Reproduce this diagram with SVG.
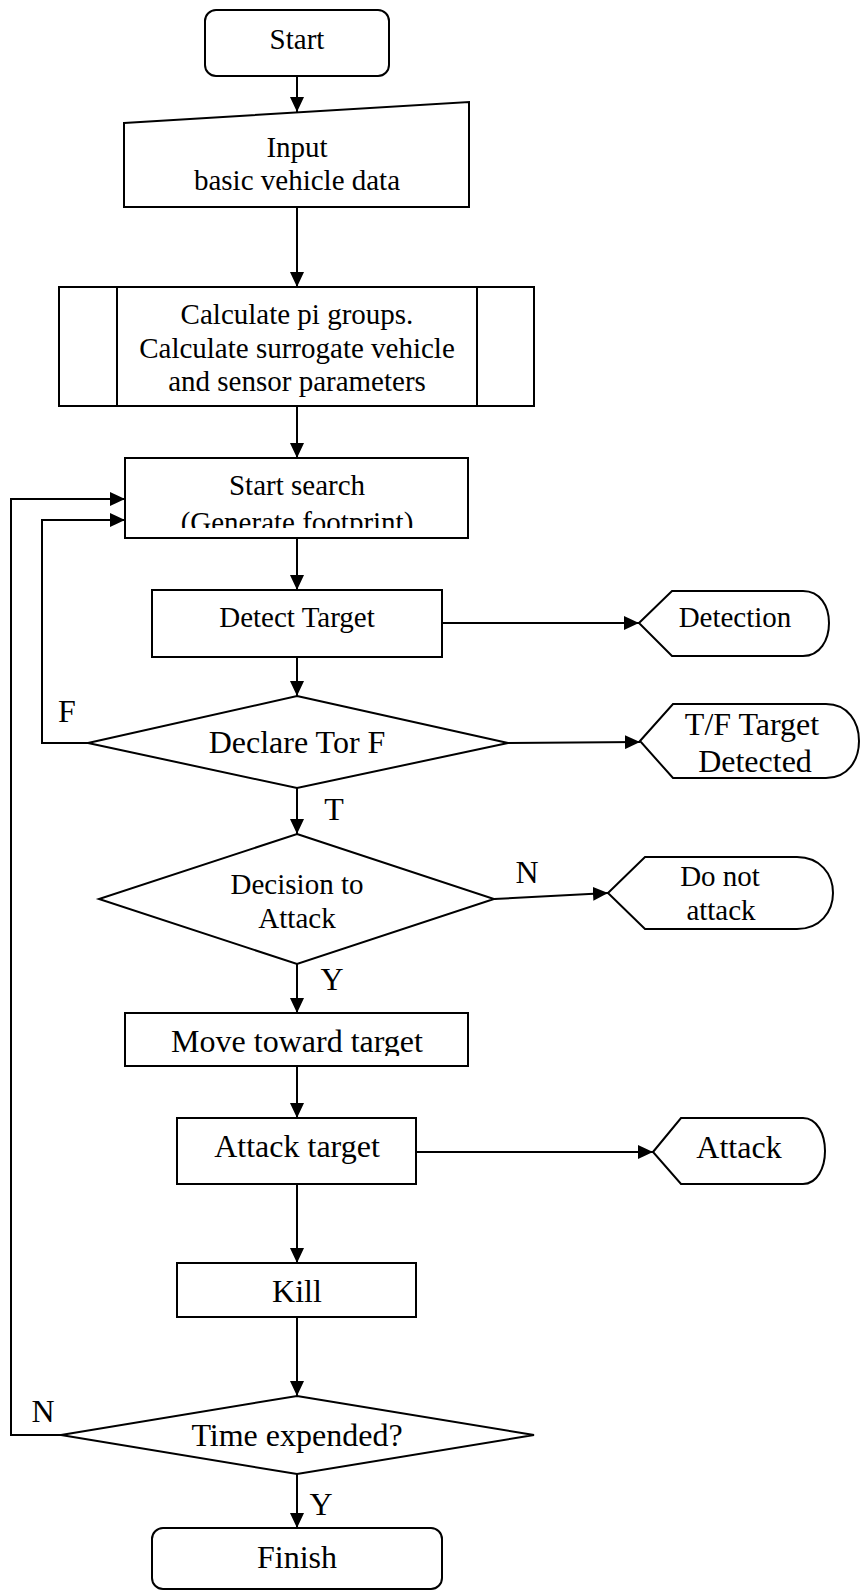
<svg xmlns="http://www.w3.org/2000/svg" width="861" height="1591" viewBox="0 0 861 1591">
<style>
.s{fill:#fff;stroke:#000;stroke-width:2;stroke-linejoin:miter}
.c{fill:none;stroke:#000;stroke-width:2}
text{font-family:"Liberation Serif","Times New Roman",serif;fill:#000;text-anchor:middle}
.a{font-size:29px}
.b{font-size:32px}
</style>
<defs>
<marker id="ah" markerUnits="userSpaceOnUse" markerWidth="16" markerHeight="14" refX="15" refY="7" orient="auto">
<path d="M0,0 L15,7 L0,14 Z" fill="#000"/>
</marker>
<clipPath id="clipSearch"><rect x="120" y="455" width="360" height="73"/></clipPath>
<clipPath id="clipMove"><rect x="120" y="1010" width="360" height="46"/></clipPath>
</defs>
<rect width="861" height="1591" fill="#fff"/>
<g id="connectors">
<line class="c" x1="297" y1="76" x2="297" y2="112" marker-end="url(#ah)"/>
<line class="c" x1="297" y1="207" x2="297" y2="287" marker-end="url(#ah)"/>
<line class="c" x1="297" y1="406" x2="297" y2="458" marker-end="url(#ah)"/>
<line class="c" x1="297" y1="538" x2="297" y2="590" marker-end="url(#ah)"/>
<line class="c" x1="442" y1="623" x2="639" y2="623" marker-end="url(#ah)"/>
<line class="c" x1="297" y1="657" x2="297" y2="696" marker-end="url(#ah)"/>
<line class="c" x1="508" y1="743" x2="640" y2="742" marker-end="url(#ah)"/>
<polyline class="c" points="88,743 42,743 42,520 125,520" marker-end="url(#ah)"/>
<line class="c" x1="297" y1="788" x2="297" y2="834" marker-end="url(#ah)"/>
<line class="c" x1="494" y1="899" x2="608" y2="893" marker-end="url(#ah)"/>
<line class="c" x1="297" y1="964" x2="297" y2="1013" marker-end="url(#ah)"/>
<line class="c" x1="297" y1="1066" x2="297" y2="1118" marker-end="url(#ah)"/>
<line class="c" x1="416" y1="1152" x2="653" y2="1152" marker-end="url(#ah)"/>
<line class="c" x1="297" y1="1184" x2="297" y2="1263" marker-end="url(#ah)"/>
<line class="c" x1="297" y1="1317" x2="297" y2="1396" marker-end="url(#ah)"/>
<polyline class="c" points="61,1435 11,1435 11,499 125,499" marker-end="url(#ah)"/>
<line class="c" x1="297" y1="1474" x2="297" y2="1528" marker-end="url(#ah)"/>
<text class="b" x="67" y="722">F</text>
<text class="b" x="334" y="820">T</text>
<text class="b" x="527" y="883">N</text>
<text class="b" x="332" y="990">Y</text>
<text class="b" x="43" y="1422">N</text>
<text class="b" x="321" y="1515">Y</text>
</g>
<g id="start">
<rect class="s" x="205" y="10" width="184" height="66" rx="11"/>
<text class="a" x="297" y="49">Start</text>
</g>
<g id="input">
<path class="s" d="M124,123 L469,102 L469,207 L124,207 Z"/>
<text class="a" x="297" y="157">Input</text>
<text class="a" x="297" y="190">basic vehicle data</text>
</g>
<g id="calculate">
<rect class="s" x="59" y="287" width="475" height="119"/>
<line class="c" x1="117" y1="287" x2="117" y2="406"/>
<line class="c" x1="477" y1="287" x2="477" y2="406"/>
<text class="a" x="297" y="324">Calculate pi groups.</text>
<text class="a" x="297" y="358">Calculate surrogate vehicle</text>
<text class="a" x="297" y="391">and sensor parameters</text>
</g>
<g id="startsearch">
<rect class="s" x="125" y="458" width="343" height="80"/>
<text class="a" x="297" y="495">Start search</text>
<text class="a" x="297" y="532" clip-path="url(#clipSearch)">(Generate footprint)</text>
</g>
<g id="detect">
<rect class="s" x="152" y="590" width="290" height="67"/>
<text class="a" x="297" y="627">Detect Target</text>
</g>
<g id="detection">
<path class="s" d="M639,623 L672,591 L803,591 C820,591 829,606 829,623 C829,640 820,656 803,656 L672,656 Z"/>
<text class="a" x="735" y="627">Detection</text>
</g>
<g id="declare">
<path class="s" d="M297,696 L508,743 L297,788 L88,743 Z"/>
<text class="b" x="297" y="753">Declare Tor F</text>
</g>
<g id="tftarget">
<path class="s" d="M640,741 L673,704 L826,704 C848,704 859,722 859,741 C859,760 848,778 826,778 L673,778 Z"/>
<text class="b" x="752" y="735">T/F Target</text>
<text class="b" x="755" y="772">Detected</text>
</g>
<g id="decision">
<path class="s" d="M297,834 L494,899 L297,964 L99,899 Z"/>
<text class="a" x="297" y="894">Decision to</text>
<text class="a" x="297" y="928">Attack</text>
</g>
<g id="donotattack">
<path class="s" d="M608,893 L645,857 L797,857 C820,857 833,874 833,893 C833,912 820,929 797,929 L645,929 Z"/>
<text class="a" x="720" y="886">Do not</text>
<text class="a" x="721" y="920">attack</text>
</g>
<g id="move">
<rect class="s" x="125" y="1013" width="343" height="53"/>
<text class="b" x="297" y="1052" clip-path="url(#clipMove)">Move toward target</text>
</g>
<g id="attacktarget">
<rect class="s" x="177" y="1118" width="239" height="66"/>
<text class="b" x="297" y="1157">Attack target</text>
</g>
<g id="attack">
<path class="s" d="M653,1152 L681,1118 L803,1118 C817,1118 825,1134 825,1151 C825,1168 817,1184 803,1184 L681,1184 Z"/>
<text class="b" x="739" y="1158">Attack</text>
</g>
<g id="kill">
<rect class="s" x="177" y="1263" width="239" height="54"/>
<text class="b" x="297" y="1302">Kill</text>
</g>
<g id="time">
<path class="s" d="M297,1396 L534,1435 L297,1474 L61,1435 Z"/>
<text class="b" x="297" y="1446">Time expended?</text>
</g>
<g id="finish">
<rect class="s" x="152" y="1528" width="290" height="61" rx="11"/>
<text class="b" x="297" y="1568">Finish</text>
</g>
</svg>
